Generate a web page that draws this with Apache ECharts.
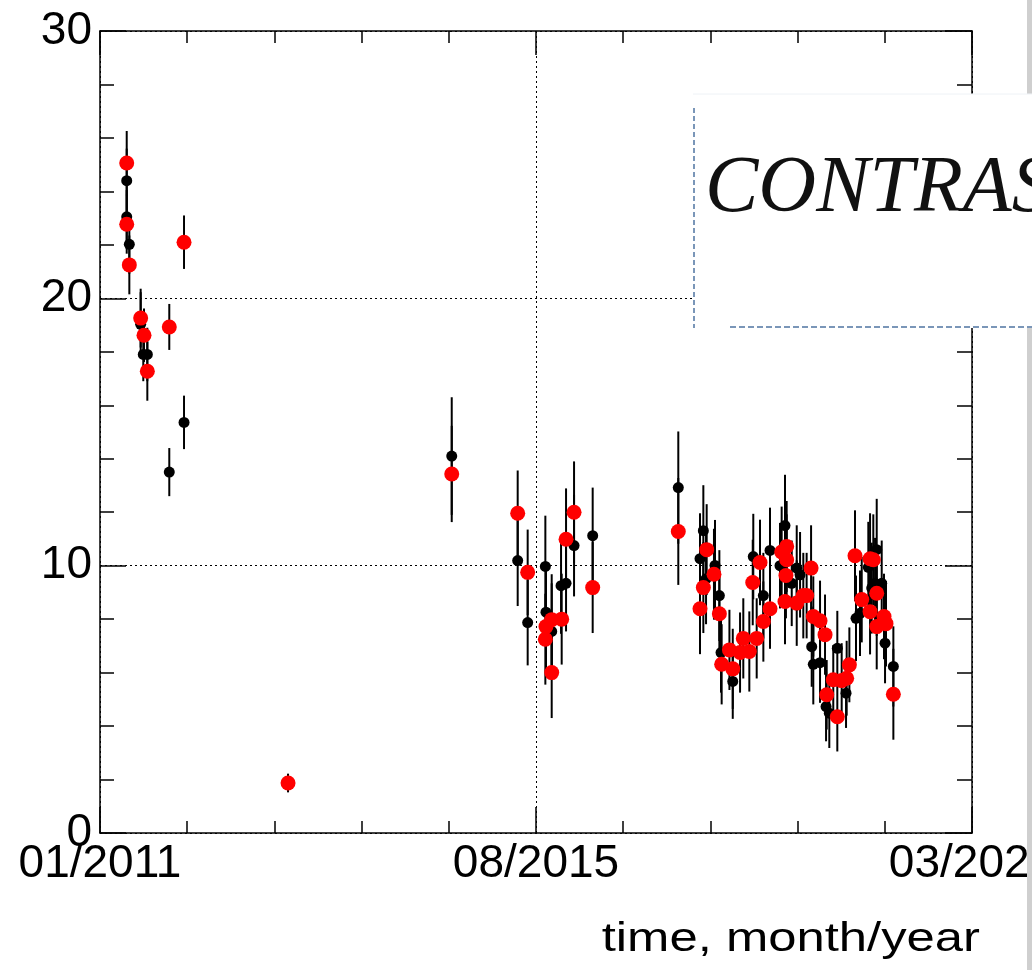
<!DOCTYPE html>
<html>
<head>
<meta charset="utf-8">
<script src="https://cdn.jsdelivr.net/npm/echarts@6/dist/echarts.min.js"></script>
<style>html,body{margin:0;padding:0;background:#fff;}#c{width:1032px;height:970px;}</style>
</head>
<body>
<div id="c"></div>
<script>
// x values: months since 01/2011
const xTickValues = [0, 55, 110];
const xTickLabels = ['01/2011', '08/2015', '03/2020'];
const yTickValues = [0, 10, 20, 30];

const blackX = [3.37, 3.37, 3.70, 5.13, 5.46, 5.97, 8.74, 10.60, 23.72,
  44.37, 52.69, 53.95, 56.18, 56.26, 56.98, 58.16, 58.79, 59.80, 62.15,
  72.95, 75.69, 76.11, 76.45, 77.58, 78.13, 78.34, 79.82, 82.41, 83.68, 84.52,
  85.78, 86.41, 87.26, 87.89, 88.31, 89.78, 89.98, 90.83, 91.59, 92.00, 93.01,
  94.11, 95.37, 95.87, 96.92, 97.35, 97.77, 97.98, 98.61, 99.03, 100.08];
const blackY = [24.40, 23.05, 22.02, 19.03, 17.90, 17.90, 13.50, 15.36, 1.90,
  14.10, 10.19, 7.87, 9.97, 8.26, 7.54, 9.25, 9.34, 10.75, 11.12,
  12.92, 10.26, 11.31, 9.51, 10.01, 8.88, 6.75, 5.67, 10.34, 8.88, 10.57,
  10.00, 11.50, 9.34, 9.91, 9.66, 6.97, 6.31, 6.37, 4.73, 4.48, 6.91,
  5.23, 8.03, 8.22, 9.94, 9.16, 9.34, 10.60, 9.34, 7.10, 6.23];
const blackErr = [1.2, 1.0, 1.1, 1.2, 1.0, 1.0, 0.9, 1.0, 0.3,
  2.2, 1.7, 1.6, 1.9, 1.7, 1.8, 1.8, 1.8, 1.9, 1.8,
  2.1, 1.7, 1.7, 1.7, 1.7, 1.7, 1.5, 1.4, 1.6, 1.6, 1.6,
  1.6, 1.9, 1.6, 1.6, 1.6, 1.5, 1.5, 1.5, 1.3, 1.3, 1.4,
  1.3, 1.6, 1.6, 1.7, 1.7, 1.7, 1.9, 1.6, 1.5, 1.5];

const redX = [3.37, 3.37, 3.70, 10.60, 5.13, 5.55, 5.97, 8.74, 23.72,
  44.37, 52.69, 53.95, 56.26, 56.18, 56.98, 56.98, 58.24, 58.79, 59.80, 62.15,
  72.95, 76.53, 77.45, 76.11, 75.69, 78.13, 79.40, 78.42, 79.82, 80.74, 81.15,
  81.91, 82.84, 83.26, 82.34, 83.68, 84.52, 86.62, 85.99, 86.62, 86.53, 89.70,
  86.41, 87.89, 88.72, 89.14, 89.98, 90.83, 91.46, 92.50, 91.67, 93.01, 94.53,
  93.56, 94.19, 95.24, 96.09, 97.14, 97.55, 97.98, 97.14, 97.98, 98.90, 99.15, 100.08];
const redY = [25.06, 22.77, 21.25, 22.10, 19.26, 18.62, 17.27, 18.93, 1.87,
  13.43, 11.96, 9.75, 7.72, 7.25, 6.00, 7.98, 8.00, 10.99, 12.00, 9.18,
  11.28, 10.60, 9.68, 9.18, 8.39, 8.20, 6.85, 6.31, 6.14, 6.75, 7.28,
  6.79, 7.28, 10.12, 9.37, 7.91, 8.39, 10.72, 10.51, 10.22, 9.63, 9.91,
  8.66, 8.60, 8.88, 8.88, 8.10, 7.94, 7.42, 5.73, 5.17, 4.35, 6.29,
  5.70, 5.79, 10.37, 8.73, 10.26, 10.22, 8.97, 8.28, 7.72, 8.10, 7.83, 5.19];
const redErr = [1.2, 1.1, 1.1, 1.0, 1.1, 1.0, 1.1, 0.86, 0.35,
  1.8, 1.6, 1.6, 1.7, 1.7, 1.7, 1.7, 1.7, 1.9, 1.9, 1.7,
  2.0, 1.7, 1.7, 1.7, 1.7, 1.6, 1.5, 1.5, 1.5, 1.5, 1.5,
  1.5, 1.5, 1.6, 1.6, 1.5, 1.5, 1.7, 1.7, 1.7, 1.6, 1.6,
  1.6, 1.6, 1.6, 1.6, 1.5, 1.5, 1.5, 1.3, 1.3, 1.3, 1.4,
  1.4, 1.4, 1.7, 1.6, 1.7, 1.7, 1.6, 1.6, 1.6, 1.6, 1.6, 1.7];

const blackData = blackX.map((x, i) => [x, blackY[i], blackErr[i]]);
const redData = redX.map((x, i) => [x, redY[i], redErr[i]]);

function errRender(params, api) {
  const x = api.value(0), y = api.value(1), e = api.value(2);
  const p1 = api.coord([x, y + e]);
  const p2 = api.coord([x, y - e]);
  return {
    type: 'line',
    shape: { x1: p1[0], y1: p1[1], x2: p2[0], y2: p2[1] },
    style: { stroke: '#000', lineWidth: 2 }
  };
}

const FONT = "'Liberation Sans', Arial, sans-serif";
const axisLineStyle = { color: '#000', width: 1.5 };
const dotted = { type: [2, 3], color: '#000', width: 1 };

const chart = echarts.init(document.getElementById('c'), null, { renderer: 'canvas' });
chart.setOption({
  animation: false,
  backgroundColor: '#fff',
  grid: { left: 100, right: 60, top: 31, bottom: 137, containLabel: false, outerBoundsMode: 'none' },
  xAxis: [{
    type: 'value', min: 0, max: 110, interval: 55, position: 'bottom',
    axisLine: { show: true, onZero: false, lineStyle: axisLineStyle },
    axisTick: { show: true, inside: true, length: 26, lineStyle: axisLineStyle },
    minorTick: { show: true, splitNumber: 5, length: 12, lineStyle: axisLineStyle },
    axisLabel: {
      show: true, margin: 8, fontSize: 46, fontFamily: FONT, color: '#000',
      showMinLabel: true, showMaxLabel: true, hideOverlap: false,
      formatter: v => { const i = xTickValues.indexOf(Math.round(v)); return i >= 0 ? xTickLabels[i] : ''; }
    },
    splitLine: { show: true, lineStyle: dotted }
  }, {
    type: 'value', min: 0, max: 110, interval: 55, position: 'top',
    axisLine: { show: true, onZero: false, lineStyle: axisLineStyle },
    axisTick: { show: true, inside: true, length: 24, lineStyle: axisLineStyle },
    minorTick: { show: true, splitNumber: 5, length: 12, lineStyle: axisLineStyle },
    axisLabel: { show: false },
    splitLine: { show: false }
  }],
  yAxis: [{
    type: 'value', min: 0, max: 30, interval: 10, position: 'left',
    axisLine: { show: true, onZero: false, lineStyle: axisLineStyle },
    axisTick: { show: true, inside: true, length: 26, lineStyle: axisLineStyle },
    minorTick: { show: true, splitNumber: 5, length: 14, lineStyle: axisLineStyle },
    axisLabel: {
      show: true, margin: 8, fontSize: 46, fontFamily: FONT, color: '#000',
      formatter: v => yTickValues.indexOf(v) >= 0 ? String(v) : ''
    },
    splitLine: { show: true, lineStyle: dotted }
  }, {
    type: 'value', min: 0, max: 30, interval: 10, position: 'right',
    axisLine: { show: true, onZero: false, lineStyle: axisLineStyle },
    axisTick: { show: true, inside: true, length: 27, lineStyle: axisLineStyle },
    minorTick: { show: true, splitNumber: 5, length: 15, lineStyle: axisLineStyle },
    axisLabel: { show: false },
    splitLine: { show: false }
  }],
  series: [
    { type: 'custom', name: 'blackErr', xAxisIndex: 0, yAxisIndex: 0, renderItem: errRender,
      data: blackData, encode: { x: 0, y: 1 }, z: 2, silent: true },
    { type: 'custom', name: 'redErr', xAxisIndex: 1, yAxisIndex: 1, renderItem: errRender,
      data: redData, encode: { x: 0, y: 1 }, z: 2, silent: true },
    { type: 'scatter', name: 'black', xAxisIndex: 0, yAxisIndex: 0, data: blackData,
      symbol: 'circle', symbolSize: 11, itemStyle: { color: '#000', opacity: 1 }, z: 3 },
    { type: 'scatter', name: 'red', xAxisIndex: 1, yAxisIndex: 1, data: redData,
      symbol: 'circle', symbolSize: 15, itemStyle: { color: '#ff0000', opacity: 1 }, z: 4 }
  ],
  graphic: [
    { type: 'rect', z: 100, shape: { x: 1027, y: 0, width: 5, height: 970 },
      style: { fill: '#cfcfcf' } },
    { type: 'rect', z: 101, shape: { x: 693, y: 94, width: 339, height: 234 },
      style: { fill: '#ffffff' } },
    { type: 'line', z: 102, shape: { x1: 693, y1: 94, x2: 1032, y2: 94 },
      style: { stroke: '#eef2f6', lineWidth: 1 } },
    { type: 'line', z: 102, shape: { x1: 694, y1: 108, x2: 694, y2: 328 },
      style: { stroke: '#7a96b8', lineWidth: 2, lineDash: [5, 3] } },
    { type: 'line', z: 102, shape: { x1: 730, y1: 327, x2: 1032, y2: 327 },
      style: { stroke: '#7a96b8', lineWidth: 2, lineDash: [6, 3] } },
    { type: 'text', z: 103, x: 705, y: 150,
      style: { text: 'CONTRAS', font: "italic 80px 'Liberation Serif', 'Times New Roman', serif",
        fill: '#111', textAlign: 'left', textVerticalAlign: 'top' } },
    { type: 'text', z: 103, x: 980, y: 920, scaleX: 1.27,
      style: { text: 'time, month/year', font: "40px 'Liberation Sans', Arial, sans-serif",
        fill: '#000', textAlign: 'right', textVerticalAlign: 'top' } }
  ]
});
</script>
</body>
</html>
